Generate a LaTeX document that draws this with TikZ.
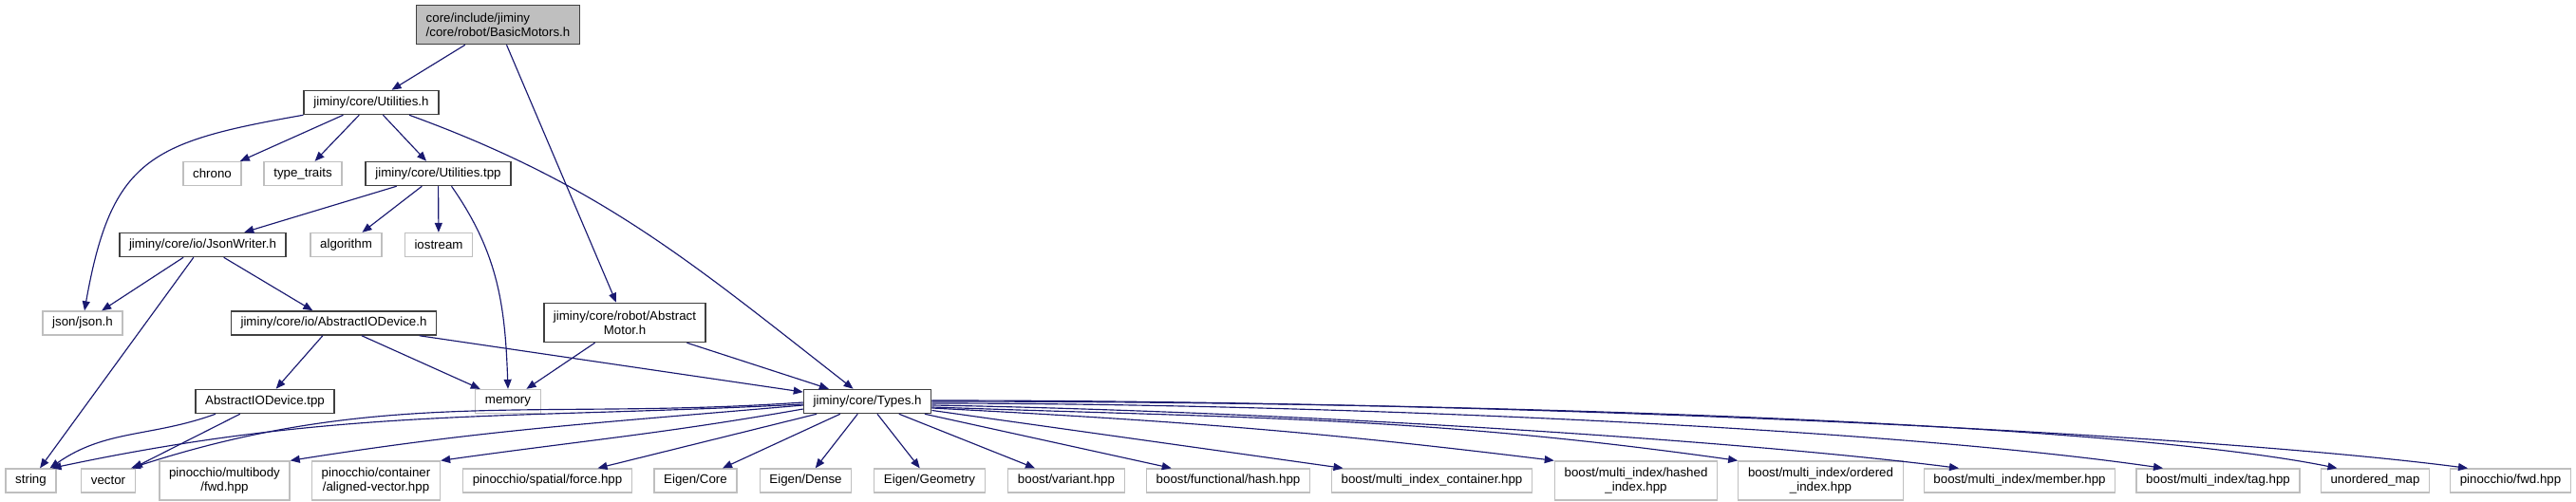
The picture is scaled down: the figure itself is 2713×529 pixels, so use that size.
\documentclass[tikz,border=0pt]{standalone}
\usepackage{fontspec}
\setmainfont{Liberation Sans}
\usetikzlibrary{arrows.meta}
\definecolor{edgeblue}{HTML}{191970}
\definecolor{sysgray}{HTML}{BFBFBF}
\definecolor{boxline}{HTML}{404040}
\begin{document}
\begin{tikzpicture}[x=1pt, y=-1pt,
    file/.style={draw=boxline, line width=1.5pt, fill=white, inner xsep=10.2pt, inner ysep=2pt,
        minimum height=25pt, font=\fontsize{13.3pt}{15pt}\selectfont},
    sysfile/.style={file, draw=sysgray, line width=1.3pt},
    twoline/.style={minimum height=41pt, align=center},
    edge/.style={draw=edgeblue, line width=1.15pt, -{Triangle[length=10pt,width=8pt]}}]
    \useasboundingbox (0,0) rectangle (2713,529);

    % project headers
    \node[file, fill=sysgray, minimum height=41pt, align=left] (root) at (524.5,26) {core/include/jiminy\\/core/robot/BasicMotors.h};
    \node[file] (utilh) at (391,108) {jiminy/core/Utilities.h};
    \node[file] (utiltpp) at (461.5,183) {jiminy/core/Utilities.tpp};
    \node[file] (jsonwriter) at (213.5,258) {jiminy/core/io/JsonWriter.h};
    \node[file] (aiodevh) at (351.5,340.5) {jiminy/core/io/AbstractIODevice.h};
    \node[file, twoline] (amotor) at (658,340) {jiminy/core/robot/Abstract\\Motor.h};
    \node[file] (aiodevtpp) at (279,423) {AbstractIODevice.tpp};
    \node[file] (types) at (913.6,423) {jiminy/core/Types.h};

    % system and third party headers
    \node[sysfile] (chrono) at (223.5,183) {chrono};
    \node[sysfile] (typetraits) at (319,183) {type\_traits};
    \node[sysfile] (algorithm) at (364.5,258) {algorithm};
    \node[sysfile] (iostream) at (462,258) {iostream};
    \node[sysfile] (jsonh) at (87,340.5) {json/json.h};
    \node[sysfile] (memory) at (535,423) {memory};
    \node[sysfile] (string) at (32.5,506.5) {string};
    \node[sysfile] (vector) at (114,506.5) {vector};
    \node[sysfile, twoline] (mbfwd) at (236.5,506.5) {pinocchio/multibody\\/fwd.hpp};
    \node[sysfile, twoline] (alignedvec) at (396,506.5) {pinocchio/container\\/aligned-vector.hpp};
    \node[sysfile] (force) at (576.5,506.5) {pinocchio/spatial/force.hpp};
    \node[sysfile] (eigencore) at (732.5,506.5) {Eigen/Core};
    \node[sysfile] (eigendense) at (848.5,506.5) {Eigen/Dense};
    \node[sysfile] (eigengeom) at (979,506.5) {Eigen/Geometry};
    \node[sysfile] (variant) at (1123,506.5) {boost/variant.hpp};
    \node[sysfile] (hash) at (1293.5,506.5) {boost/functional/hash.hpp};
    \node[sysfile] (mic) at (1508,506.5) {boost/multi\_index\_container.hpp};
    \node[sysfile, twoline] (hashed) at (1723,506.5) {boost/multi\_index/hashed\\\_index.hpp};
    \node[sysfile, twoline] (ordered) at (1917.5,506.5) {boost/multi\_index/ordered\\\_index.hpp};
    \node[sysfile] (member) at (2127,506.5) {boost/multi\_index/member.hpp};
    \node[sysfile] (tag) at (2336,506.5) {boost/multi\_index/tag.hpp};
    \node[sysfile] (umap) at (2501.5,506.5) {unordered\_map};
    \node[sysfile] (pinfwd) at (2644,506.5) {pinocchio/fwd.hpp};

    % include edges
    \draw[edge] (root) -- (utilh);
    \draw[edge] (root) -- (amotor);
    \draw[edge] (utilh.south west) to[out=190, in=80, looseness=1.35] ([xshift=2pt]jsonh.north);
    \draw[edge] (utilh) -- (chrono);
    \draw[edge] (utilh) -- (typetraits);
    \draw[edge] (utilh) -- (utiltpp);
    \draw[edge] ([xshift=40pt]utilh.south) to[out=-20, in=142] ([xshift=-15pt]types.north);
    \draw[edge] (utiltpp) -- (jsonwriter);
    \draw[edge] (utiltpp) -- (algorithm);
    \draw[edge] (utiltpp) -- (iostream);
    \draw[edge] ([xshift=14pt]utiltpp.south) to[out=-55, in=92] (memory.north);
    \draw[edge] (jsonwriter) -- (jsonh);
    \draw[edge] (jsonwriter) -- (string);
    \draw[edge] (jsonwriter) -- (aiodevh);
    \draw[edge] (aiodevh) -- (aiodevtpp);
    \draw[edge] (aiodevh) -- (memory);
    \draw[edge] (aiodevh) -- (types);
    \draw[edge] (amotor) -- (memory);
    \draw[edge] (amotor) -- (types);
    \draw[edge] ([xshift=-52pt]aiodevtpp.south) to[out=200, in=35] ([xshift=20pt]string.north);
    \draw[edge] (aiodevtpp) -- (vector);

    % Types.h fan out
    \draw[edge] ([yshift=-3pt]types.west) to[out=183, in=12] ([xshift=22pt]string.north);
    \draw[edge] ([yshift=-1pt]types.west) to[out=184, in=18] ([xshift=24pt]vector.north);
    \draw[edge] ([yshift=-4pt]types.west) to[out=185, in=9] (mbfwd.north east);
    \draw[edge] ([yshift=-8pt]types.west) to[out=190, in=8] (alignedvec.north east);
    \draw[edge] (types) -- (force);
    \draw[edge] (types) -- (eigencore);
    \draw[edge] (types) -- (eigendense);
    \draw[edge] (types) -- (eigengeom);
    \draw[edge] (types) -- (variant);
    \draw[edge] (types) -- (hash);
    \draw[edge] (types) -- (mic);
    \draw[edge] ([yshift=-7pt]types.east) to[out=-3, in=173] (hashed.north west);
    \draw[edge] ([yshift=-6pt]types.east) to[out=-2, in=172] (ordered.north west);
    \draw[edge] ([yshift=-4pt]types.east) .. controls (1331,433) and (1815,462) .. ([xshift=-64pt]member.north);
    \draw[edge] ([yshift=-2pt]types.east) .. controls (1381,425) and (1981,450) .. ([xshift=-58pt]tag.north);
    \draw[edge] (types.east) .. controls (1531,423) and (2216,444) .. ([xshift=-40pt]umap.north);
    \draw[edge] ([yshift=1pt]types.east) .. controls (1581,422) and (2301,455) .. ([xshift=-45pt]pinfwd.north);
\end{tikzpicture}
\end{document}
